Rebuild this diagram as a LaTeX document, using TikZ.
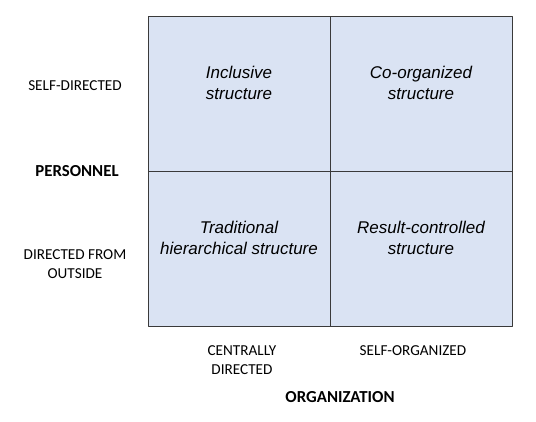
\documentclass[tikz,border=0pt]{standalone}
\usepackage{fontspec}
\setmainfont{Liberation Sans}
\newfontfamily\calibri{Carlito}
\definecolor{cellblue}{HTML}{DAE3F3}
\definecolor{gridline}{HTML}{3A3A3A}

\begin{document}
\begin{tikzpicture}
    [x=1pt, y=-1pt,
    line cap=round,
    line join=round,
    cell/.style={draw=gridline, fill=cellblue, line width=0.9pt,
        minimum width=182pt, minimum height=155pt, inner sep=0pt},
    celltext/.style={align=center, font=\fontsize{17}{21}\selectfont\itshape},
    axistext/.style={align=center, font=\calibri\fontsize{15.2}{19}\selectfont},
    axistitle/.style={font=\calibri\fontsize{16.8}{19}\selectfont\bfseries}]

    \useasboundingbox (0, 0) rectangle (536, 421);

    \node[cell] (inc) at (239, 93.5)  {};
    \node[cell] (coo) at (421, 93.5)  {};
    \node[cell] (tra) at (239, 248.5) {};
    \node[cell] (res) at (421, 248.5) {};

    \node[celltext] at ([yshift=11pt]inc.center) {Inclusive\\structure};
    \node[celltext] at ([yshift=11pt]coo.center) {Co-organized\\structure};
    \node[celltext] at ([yshift=11pt]tra.center) {Traditional\\hierarchical structure};
    \node[celltext] at ([yshift=11pt]res.center) {Result-controlled\\structure};

    % Achsenbeschriftung
    \node[axistext]  (selfdir)  at (75, 86)   {SELF-DIRECTED};
    \node[axistitle] (personnel) at (77, 171) {PERSONNEL};
    \node[axistext]  (outside)  at (75, 264)  {DIRECTED FROM\\OUTSIDE};

    \node[axistext]  (central)  at (242, 360) {CENTRALLY\\DIRECTED};
    \node[axistext]  (selforg)  at (413, 351) {SELF-ORGANIZED};
    \node[axistitle] (organization) at (340, 397) {ORGANIZATION};
\end{tikzpicture}
\end{document}
